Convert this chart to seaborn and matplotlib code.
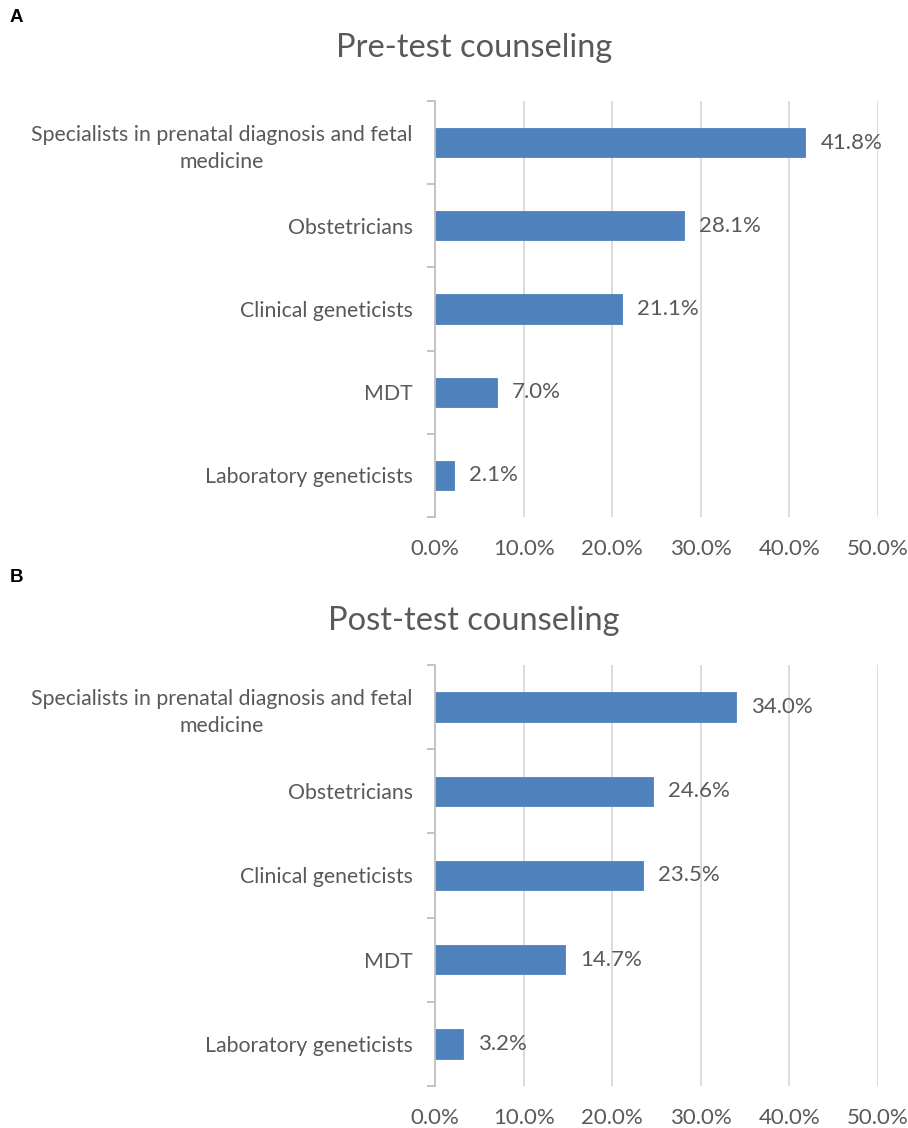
import matplotlib
matplotlib.use("Agg")
import matplotlib.pyplot as plt
import seaborn as sns
import pandas as pd
import numpy as np
from matplotlib.ticker import FuncFormatter, FixedLocator

categories = ["Specialists in prenatal diagnosis and fetal\nmedicine",
              "Obstetricians", "Clinical geneticists", "MDT",
              "Laboratory geneticists"]
pre_values = [41.8, 28.1, 21.1, 7.0, 2.1]
post_values = [34.0, 24.6, 23.5, 14.7, 3.2]
titles = ["Pre-test counseling", "Post-test counseling"]
panel_letters = ["A", "B"]
x_ticks = [0, 10, 20, 30, 40, 50]

sns.set_theme(style="white")
plt.rcParams['font.family'] = ['Lato', 'DejaVu Sans']

TEXT = "#595959"
BAR = "#4F81BD"
GRID = "#D9D9D9"

W, H = 908, 1128
fig = plt.figure(figsize=(W / 100, H / 100), dpi=100)

def fx(px): return px / W
def fy(py): return 1 - py / H

panels = [
    dict(vals=pre_values, top=101, bottom=517, title_y=48, letter_y=18),
    dict(vals=post_values, top=665, bottom=1086, title_y=621, letter_y=578),
]
left_px, right_px = 435, 878

for i, p in enumerate(panels):
    ax = fig.add_axes([fx(left_px), fy(p["bottom"]), fx(right_px - left_px),
                       (p["bottom"] - p["top"]) / H])
    df = pd.DataFrame({"cat": categories, "val": p["vals"]})
    sns.barplot(data=df, y="cat", x="val", orient="h", color=BAR,
                width=0.35, saturation=1, ax=ax, edgecolor=BAR, linewidth=0.6)
    ax.set_xlim(0, 50)
    ax.set_ylim(4.5, -0.5)
    ax.set_xlabel("")
    ax.set_ylabel("")
    ax.xaxis.set_major_locator(FixedLocator(x_ticks))
    ax.xaxis.set_major_formatter(FuncFormatter(lambda v, _: f"{v:.1f}%"))
    for xv in x_ticks[1:]:
        ax.axvline(xv, color=GRID, lw=1.3, zorder=0)
    for s in ["top", "right", "bottom"]:
        ax.spines[s].set_visible(False)
    ax.spines["left"].set_color("#BFBFBF")
    ax.spines["left"].set_linewidth(1.3)
    ax.tick_params(axis="x", length=0, pad=16, labelsize=16, labelcolor=TEXT)
    ax.tick_params(axis="y", which="major", length=0, pad=16, labelsize=15.3,
                   labelcolor=TEXT)
    ax.set_yticks(range(len(categories)))
    ax.set_yticklabels(categories, ha="right", multialignment="center",
                       linespacing=1.45)
    ax.yaxis.set_minor_locator(FixedLocator(np.arange(-0.5, 5, 1)))
    ax.tick_params(axis="y", which="minor", length=6, color="#BFBFBF", width=1.3,
                   left=True)
    for j, v in enumerate(p["vals"]):
        ax.text(v + 1.7, j, f"{v:.1f}%", va="center", ha="left",
                fontsize=16, color=TEXT)
    fig.text(fx(474), fy(p["title_y"]), titles[i], ha="center", va="center",
             fontsize=23.5, color=TEXT)
    fig.text(fx(10), fy(p["letter_y"]), panel_letters[i], ha="left", va="center",
             fontsize=13.5, fontweight="bold", color="black",
             family=["Liberation Sans", "DejaVu Sans"])

fig.savefig("out.png", dpi=100)
